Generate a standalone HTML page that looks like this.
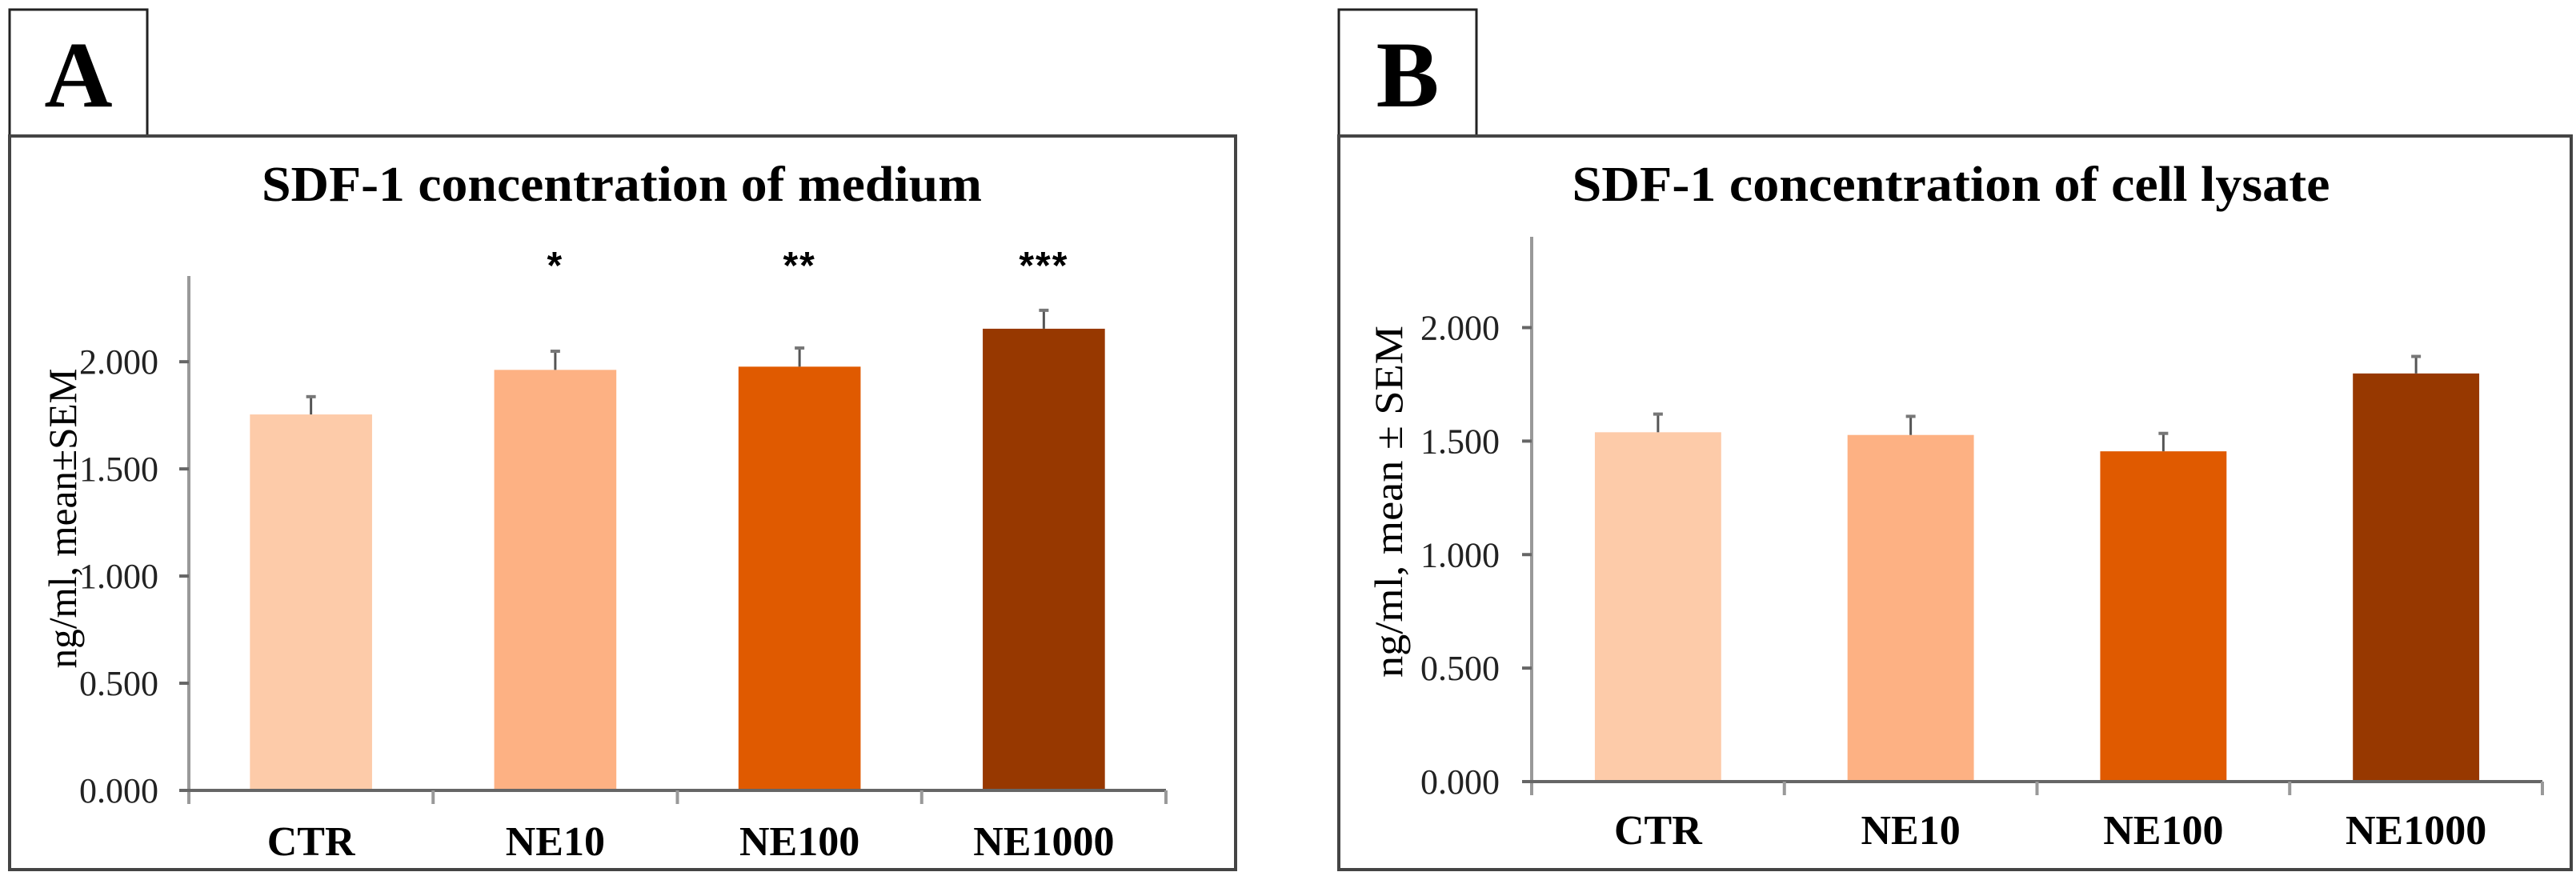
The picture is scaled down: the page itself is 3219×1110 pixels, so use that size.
<!DOCTYPE html>
<html><head><meta charset="utf-8"><style>
html,body{margin:0;padding:0;background:#fff;}
svg{display:block;font-family:"Liberation Serif",serif;}
</style></head><body>
<svg id="fig" width="3219" height="1110" viewBox="0 0 3219 1110" xmlns="http://www.w3.org/2000/svg">
<rect x="0" y="0" width="3219" height="1110" fill="#fff"/>
<g>
<rect x="12" y="12" width="172" height="158" fill="#fff" stroke="#222" stroke-width="3"/>
<text x="98" y="133" text-anchor="middle" font-size="118" font-weight="bold">A</text>
<rect x="12" y="170" width="1532" height="917" fill="none" stroke="#444" stroke-width="4"/>
<text x="777" y="251" text-anchor="middle" font-size="62" font-weight="bold" textLength="900" lengthAdjust="spacingAndGlyphs">SDF-1 concentration of medium</text>
<text transform="translate(95,648) rotate(-90)" text-anchor="middle" font-size="50" textLength="375" lengthAdjust="spacingAndGlyphs">ng/ml, mean±SEM</text>
<g id="chartA"></g>
</g>
<g>
<rect x="1673" y="12" width="172" height="158" fill="#fff" stroke="#222" stroke-width="3"/>
<text x="1759" y="133" text-anchor="middle" font-size="118" font-weight="bold">B</text>
<rect x="1673" y="170" width="1540" height="917" fill="none" stroke="#444" stroke-width="4"/>
<text x="2438" y="251" text-anchor="middle" font-size="62" font-weight="bold" textLength="947" lengthAdjust="spacingAndGlyphs">SDF-1 concentration of cell lysate</text>
<text transform="translate(1752,627) rotate(-90)" text-anchor="middle" font-size="50" textLength="440" lengthAdjust="spacingAndGlyphs">ng/ml, mean ± SEM</text>
<g id="chartB"></g>
</g>
</svg>
<script>
const categories = ["CTR", "NE10", "NE100", "NE1000"];
const colors = ["#FDCBA9", "#FDB183", "#E05A00", "#973800"];
const yTicks = [0, 0.5, 1.0, 1.5, 2.0];
const yTickLabels = ["0.000", "0.500", "1.000", "1.500", "2.000"];
const yMax = 2.4;
const mediumValues = [1.754, 1.962, 1.977, 2.154];
const mediumErrors = [0.083, 0.087, 0.087, 0.086];
const mediumStars = ["", "*", "**", "***"];
const lysateValues = [1.539, 1.527, 1.455, 1.798];
const lysateErrors = [0.080, 0.082, 0.079, 0.075];
const lysateStars = ["", "", "", ""];

const NS = "http://www.w3.org/2000/svg";
function mk(parent, tag, attrs, text) {
  const e = document.createElementNS(NS, tag);
  for (const k in attrs) e.setAttribute(k, attrs[k]);
  if (text !== undefined) e.textContent = text;
  parent.appendChild(e);
  return e;
}
function drawChart(gid, cfg, values, errors, stars, prefix) {
  const g = document.getElementById(gid);
  const yScale = v => cfg.y0 - (v / yMax) * (cfg.y0 - cfg.yTop);
  const cw = (cfg.x1 - cfg.x0) / categories.length;
  const xCenter = i => cfg.x0 + cw * (i + 0.5);
  // bars
  values.forEach((v, i) => {
    const bw = cw * 0.5;
    const r = mk(g, "rect", {x: xCenter(i) - bw / 2, y: yScale(v), width: bw, height: cfg.y0 - yScale(v), fill: colors[i]});
    
    
    const top = yScale(v + errors[i]);
    const l = mk(g, "line", {x1: xCenter(i), x2: xCenter(i), y1: yScale(v), y2: top, stroke: "#555", "stroke-width": 3});
    
    
    const c = mk(g, "line", {x1: xCenter(i) - 6, x2: xCenter(i) + 6, y1: top, y2: top, stroke: "#777", "stroke-width": 4});
    
    
    if (stars[i]) {
      const s = mk(g, "text", {x: xCenter(i), y: cfg.starY, "text-anchor": "middle", "font-size": 48, "font-weight": "bold", "font-family": "Liberation Sans, sans-serif", "letter-spacing": 2}, stars[i]);
      
      
    }
    const t = mk(g, "text", {x: xCenter(i), y: cfg.labelY, "text-anchor": "middle", "font-size": 52, "font-weight": "bold"}, categories[i]);
    
    
  });
  // axes
  const ya = mk(g, "line", {x1: cfg.x0, x2: cfg.x0, y1: cfg.yTop, y2: cfg.y0 + 17, stroke: "#999", "stroke-width": 4});
  
  
  const xa = mk(g, "line", {x1: cfg.x0 - 12, x2: cfg.x1, y1: cfg.y0, y2: cfg.y0, stroke: "#666", "stroke-width": 4});
  
  
  for (let i = 1; i <= categories.length; i++) {
    const tk = mk(g, "line", {x1: cfg.x0 + cw * i, x2: cfg.x0 + cw * i, y1: cfg.y0, y2: cfg.y0 + 17, stroke: "#999", "stroke-width": 4});
    
    
  }
  yTicks.forEach((v, i) => {
    const tk = mk(g, "line", {x1: cfg.x0 - 12, x2: cfg.x0, y1: yScale(v), y2: yScale(v), stroke: "#666", "stroke-width": 4});
    
    
    const t = mk(g, "text", {x: cfg.tickRight, y: yScale(v) + 15, "text-anchor": "end", "font-size": 44, fill: "#222"}, yTickLabels[i]);
    
    
  });
}
drawChart("chartA", {x0: 236, x1: 1457, y0: 988, yTop: 345, tickRight: 198, labelY: 1069, starY: 348}, mediumValues, mediumErrors, mediumStars, "chart-a");
drawChart("chartB", {x0: 1914, x1: 3177, y0: 977, yTop: 296, tickRight: 1874, labelY: 1055, starY: 300}, lysateValues, lysateErrors, lysateStars, "chart-b");
</script>
</body></html>
